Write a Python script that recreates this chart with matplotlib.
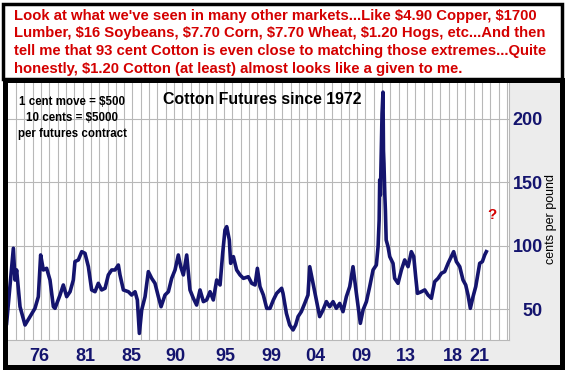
import numpy as np
import matplotlib
matplotlib.use("Agg")
import matplotlib.pyplot as plt
from matplotlib.patches import Rectangle

# cotton futures, cents per pound
years = [1972.33, 1973.03, 1973.20, 1973.37, 1973.72, 1974.24, 1974.76, 1975.27, 1975.62, 1975.86,
         1976.14, 1976.48, 1976.83, 1977.18, 1977.35, 1977.87, 1978.21, 1978.56, 1978.91, 1979.25,
         1979.42, 1979.77, 1980.12, 1980.46, 1980.81, 1981.15, 1981.50, 1981.84, 1982.19, 1982.54,
         1982.88, 1983.23, 1983.57, 1983.92, 1984.09, 1984.44, 1984.96, 1985.30, 1985.65, 1985.89,
         1986.10, 1986.34, 1986.69, 1987.03, 1987.38, 1987.72, 1988.07, 1988.35, 1988.76, 1989.11,
         1989.45, 1989.80, 1990.14, 1990.39, 1990.66, 1991.01, 1991.35, 1991.70, 1992.04, 1992.39,
         1992.74, 1993.08, 1993.43, 1993.77, 1994.12, 1994.47, 1994.74, 1994.98, 1995.16, 1995.43,
         1995.57, 1995.85, 1996.19, 1996.54, 1996.89, 1997.40, 1997.75, 1998.10, 1998.34, 1998.61,
         1998.96, 1999.31, 1999.65, 2000.00, 2000.34, 2000.86, 2001.00, 2001.35, 2001.69, 2002.04,
         2002.31, 2002.56, 2002.90, 2003.25, 2003.59, 2003.77, 2004.11, 2004.46, 2004.80, 2005.15,
         2005.50, 2005.84, 2006.19, 2006.53, 2006.88, 2007.22, 2007.57, 2007.92, 2008.26, 2008.61,
         2009.02, 2009.30, 2009.65, 2009.99, 2010.34, 2010.68, 2010.86, 2010.97, 2011.03, 2011.10,
         2011.17, 2011.27, 2011.37, 2011.42, 2011.47, 2011.52, 2011.56, 2011.62, 2011.70, 2011.89,
         2012.07, 2012.41, 2012.58, 2012.93, 2013.28, 2013.62, 2013.97, 2014.31, 2014.56, 2014.76,
         2014.94, 2015.35, 2015.70, 2016.04, 2016.39, 2016.73, 2017.08, 2017.43, 2017.77, 2018.12,
         2018.46, 2018.70, 2018.98, 2019.33, 2019.67, 2019.95, 2020.19, 2020.43, 2020.71, 2020.99,
         2021.23, 2021.40, 2021.68, 2021.92, 2022.09]
cents = [39.1, 98.2, 73.2, 81.1, 52.2, 37.8, 44.4, 50.9, 60.1, 92.9,
         81.1, 82.4, 73.2, 52.2, 50.9, 61.4, 69.3, 60.1, 64.0, 73.2,
         87.7, 89.0, 95.5, 94.2, 83.7, 65.4, 64.0, 70.6, 65.4, 66.7,
         77.2, 81.1, 81.1, 85.0, 77.2, 65.4, 64.0, 61.4, 64.0, 57.5,
         31.2, 49.6, 60.1, 79.8, 74.5, 70.6, 60.1, 52.2, 61.4, 64.0,
         74.5, 81.1, 92.9, 83.7, 77.2, 92.9, 65.4, 58.8, 53.5, 65.4,
         56.2, 57.5, 64.0, 57.5, 73.2, 69.3, 94.2, 112.6, 115.2, 104.7,
         86.3, 91.6, 81.1, 77.2, 74.5, 75.8, 70.6, 69.3, 82.4, 68.0,
         61.4, 50.9, 50.9, 57.5, 62.7, 66.7, 62.7, 47.0, 37.8, 33.9,
         37.8, 44.4, 48.3, 54.8, 61.4, 83.7, 70.6, 57.5, 44.4, 49.6,
         56.2, 52.2, 56.2, 50.9, 54.8, 48.3, 60.1, 68.0, 83.7, 62.7,
         39.1, 49.6, 56.2, 68.0, 81.1, 85.0, 99.5, 120.0, 152.0, 140.0,
         168.0, 204.0, 221.0, 175.0, 165.0, 150.0, 140.0, 128.0, 104.7, 99.5,
         91.6, 86.3, 74.5, 70.6, 81.1, 89.0, 83.7, 95.5, 91.6, 75.8,
         62.7, 64.0, 65.4, 61.4, 58.8, 71.9, 74.5, 78.5, 79.8, 86.3,
         91.6, 95.5, 87.7, 83.7, 73.2, 69.3, 61.4, 50.9, 60.1, 68.0,
         78.5, 86.3, 87.7, 92.9, 95.5]

tick_years = [1975.72, 1980.51, 1985.23, 1989.88, 1995.07, 1999.83,
              2004.37, 2009.12, 2013.79, 2018.67, 2021.36]
tick_labels = ["76", "81", "85", "90", "95", "99", "04", "09", "13", "18", "21"]
y_ticks = [50, 100, 150, 200]

header_lines = [
    "Look at what we've seen in many other markets...Like $4.90 Copper, $1700",
    "Lumber, $16 Soybeans, $7.70 Corn, $7.70 Wheat, $1.20 Hogs, etc...And then",
    "tell me that 93 cent Cotton is even close to matching those extremes...Quite",
    "honestly, $1.20 Cotton (at least) almost looks like a given to me.",
]
contract_lines = ["1 cent move = $500", "10 cents = $5000", "per futures contract"]

W, H = 566, 373
NAVY = "#14146e"
RED = "#d40000"
GRID = "#b8b8b8"
PANEL = "#ececec"

plt.rcParams['font.family'] = ['Liberation Sans', 'DejaVu Sans']
# dollar signs are plain text here
plt.rcParams['text.parse_math'] = False


def fx(px):
    return px / W


def fy(py):
    return 1 - py / H


fig = plt.figure(figsize=(W / 100, H / 100), dpi=100)
fig.patch.set_facecolor("white")

# gray panel behind the plot (tick label areas)
fig.add_artist(Rectangle((fx(4), fy(367)), fx(560) - fx(4), fy(80) - fy(367),
                         transform=fig.transFigure, facecolor=PANEL, edgecolor="none", zorder=0))

ax = fig.add_axes([fx(7), fy(340), fx(509) - fx(7), fy(82) - fy(340)])
ax.set_facecolor("white")

# vertical grid lines
for gx in 1973.303 + 0.8631 * np.arange(60):
    ax.axvline(gx, color=GRID, lw=0.8, zorder=1)
for gy in y_ticks:
    ax.axhline(gy, color=GRID, lw=0.8, zorder=1)

ax.plot(years, cents, color=NAVY, lw=2.6, zorder=3)

ax.set_xlim(1972.37, 2024.44)
ax.set_ylim(26, 229)

ax.set_xticks(tick_years)
ax.set_xticklabels(tick_labels)
ax.set_yticks(y_ticks)
ax.yaxis.tick_right()
ax.tick_params(axis="both", length=0, labelsize=13, labelcolor=NAVY)
ax.tick_params(axis="x", pad=6)
ax.tick_params(axis="y", pad=24.5)
for lab in ax.get_xticklabels() + ax.get_yticklabels():
    lab.set_fontweight("bold")
for lab in ax.get_yticklabels():
    lab.set_horizontalalignment("right")

for s in ["top", "left"]:
    ax.spines[s].set_visible(False)
for s in ["right", "bottom"]:
    ax.spines[s].set_color(GRID)
    ax.spines[s].set_linewidth(0.8)

# texts inside the chart
for i, line in enumerate(contract_lines):
    fig.text(fx(72), fy(102 + 15.8 * i), line, ha="center", va="center",
             fontsize=8.3, fontweight="bold", color="black")
fig.text(fx(262), fy(99), "Cotton Futures since 1972", ha="center", va="center",
         fontsize=11.4, fontweight="bold", color="black")
fig.text(fx(492), fy(215), "?", ha="center", va="center",
         fontsize=11, fontweight="bold", color=RED)
fig.text(fx(551), fy(219), "cents per pound", ha="center", va="center",
         rotation=90, fontsize=9, color="black")

# header box
for i, line in enumerate(header_lines):
    fig.text(fx(14), fy(16 + 17.5 * i), line, ha="left", va="center",
             fontsize=10.7, fontweight="bold", color=RED)

# black frames
fig.add_artist(Rectangle((fx(3), fy(79)), fx(562) - fx(3), fy(4) - fy(79),
                         transform=fig.transFigure, fill=False, edgecolor="black", lw=2.5, zorder=5))
fig.add_artist(Rectangle((fx(4.5), fy(367)), fx(561.5) - fx(4.5), fy(80) - fy(367),
                         transform=fig.transFigure, fill=False, edgecolor="black", lw=3.6, zorder=5))

fig.savefig("out.png", dpi=100)
